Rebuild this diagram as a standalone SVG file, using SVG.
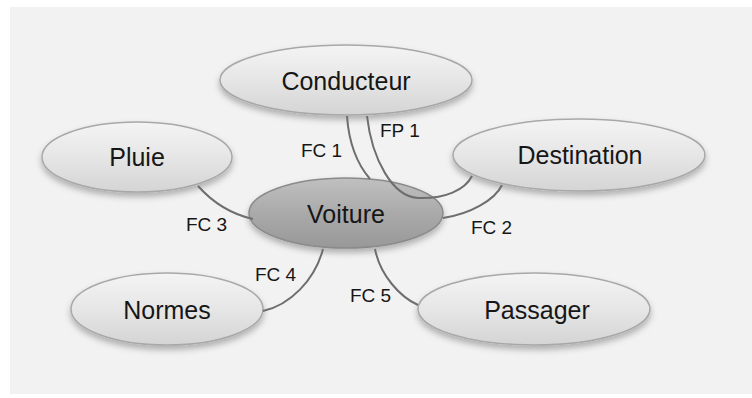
<svg xmlns="http://www.w3.org/2000/svg" width="752" height="398" viewBox="0 0 752 398">
<defs>
<linearGradient id="gLight" x1="0" y1="0" x2="0" y2="1">
<stop offset="0" stop-color="#f4f4f4"/>
<stop offset="0.5" stop-color="#e6e6e6"/>
<stop offset="1" stop-color="#d4d4d4"/>
</linearGradient>
<linearGradient id="gDark" x1="0" y1="0" x2="0" y2="1">
<stop offset="0" stop-color="#c0c0c0"/>
<stop offset="0.5" stop-color="#aaaaaa"/>
<stop offset="1" stop-color="#989898"/>
</linearGradient>
<filter id="sh" x="-20%" y="-30%" width="140%" height="170%">
<feDropShadow dx="0" dy="4" stdDeviation="3" flood-color="#000" flood-opacity="0.28"/>
</filter>
</defs>
<style>
.node{fill:url(#gLight);stroke:#a8a8a8;stroke-width:1.5;filter:url(#sh)}
.main{fill:url(#gDark);stroke:#8a8a8a;stroke-width:1.5;filter:url(#sh)}
.nt{font-family:"Liberation Sans",Arial,sans-serif;font-size:25px;fill:#161616;text-anchor:middle}
.lbl{font-family:"Liberation Sans",Arial,sans-serif;font-size:19px;fill:#161616}
.con{fill:none;stroke:#6e6e6e;stroke-width:2}
</style>
<rect x="0" y="0" width="752" height="398" fill="#ffffff"/>
<rect x="10" y="7" width="742" height="387" fill="#f2f2f2"/>

<g id="conducteur">
<ellipse class="node" cx="346" cy="80" rx="126" ry="35"/>
<text class="nt" x="346" y="90">Conducteur</text>
</g>
<g id="pluie">
<ellipse class="node" cx="137" cy="157" rx="95" ry="35"/>
<text class="nt" x="137" y="166">Pluie</text>
</g>
<g id="destination">
<ellipse class="node" cx="579" cy="155" rx="126" ry="36"/>
<text class="nt" x="580" y="164">Destination</text>
</g>
<g id="normes">
<ellipse class="node" cx="167" cy="309" rx="96" ry="36"/>
<text class="nt" x="167" y="319">Normes</text>
</g>
<g id="passager">
<ellipse class="node" cx="534" cy="309" rx="116" ry="36"/>
<text class="nt" x="537" y="319">Passager</text>
</g>
<g id="voiture">
<ellipse class="main" cx="346" cy="213" rx="97" ry="35"/>
<text class="nt" x="346" y="223">Voiture</text>
</g>

<g id="connectors">
<path class="con" d="M347,116 C349,145 358,165 370,179"/>
<path class="con" d="M367,116 C372,160 393,197 418,198 C445,199 465,190 472,176"/>
<path class="con" d="M443,218 C470,214 495,200 502,185"/>
<path class="con" d="M198,186 C215,205 235,215 253,219"/>
<path class="con" d="M323,249 C315,280 290,305 263,311"/>
<path class="con" d="M375,249 C380,275 400,297 418,305"/>
<text class="lbl" x="301" y="157">FC 1</text>
<text class="lbl" x="380" y="137">FP 1</text>
<text class="lbl" x="471" y="234">FC 2</text>
<text class="lbl" x="186" y="231">FC 3</text>
<text class="lbl" x="255" y="281">FC 4</text>
<text class="lbl" x="350" y="302">FC 5</text>
</g>
</svg>
